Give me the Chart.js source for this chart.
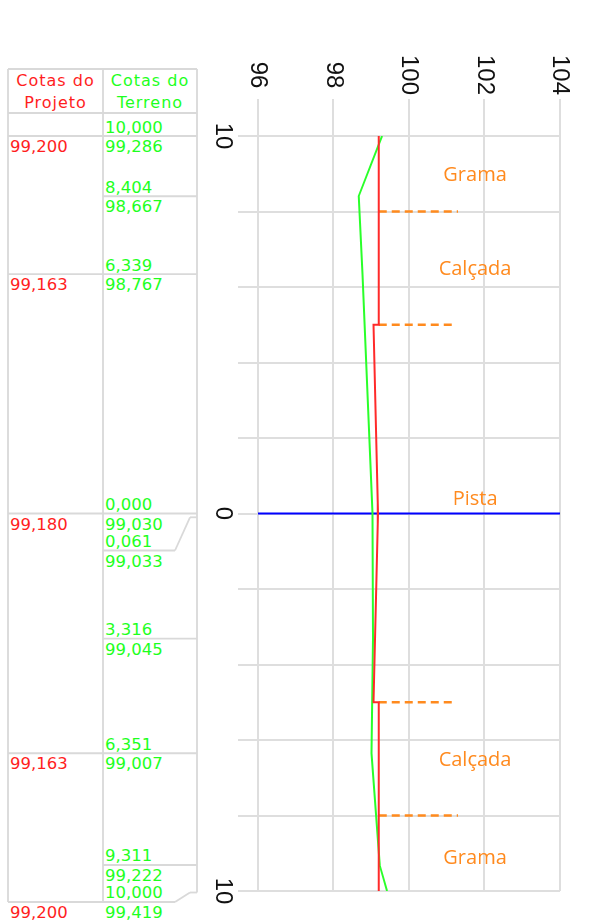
<!DOCTYPE html>
<html lang="pt-BR">
<head>
<meta charset="utf-8">
<title>Seção transversal</title>
<script src="https://cdn.jsdelivr.net/npm/chart.js@4/dist/chart.umd.min.js"></script>
<style>
    html, body { margin: 0; padding: 0; background: #fff; }
    body { width: 590px; height: 922px; position: relative; overflow: hidden; }
    #secao { position: absolute; left: 200px; top: 40px; width: 882px; height: 390px;
             transform-origin: 0 0; transform: translateX(390px) rotate(90deg); }
    #tabela { position: absolute; left: 0; top: 0; width: 200px; height: 922px; }
    #tabela svg { position: absolute; left: 0; top: 0; }
    .txt { position: absolute; font-family: "DejaVu Sans", sans-serif; font-size: 16.5px; line-height: 16px; white-space: nowrap; }
    .cab { text-align: center; line-height: 22px; letter-spacing: 1px; font-size: 16px; }
    .proj { color: #ff1e1e; }
    .terr { color: #1eff1e; }
</style>
</head>
<body>
<div id="tabela"></div>
<div id="secao"><canvas id="graficoSecao" width="882" height="390"></canvas></div>
<script>
// estacas: negativo = lado de cima do desenho
var estacoesTerreno = [-10, -8.404, -6.339, 0, 0.061, 3.316, 6.351, 9.311, 10];
var cotasTerreno = [99.286, 98.667, 98.767, 99.030, 99.033, 99.045, 99.007, 99.222, 99.419];
var estacoesProjeto = [-10, -6.339, 0, 6.351, 10];
var cotasProjeto = [99.200, 99.163, 99.180, 99.163, 99.200];
// greide desenhado (com degrau do meio-fio)
var estacoesGreide = [-10, -5, -5, 0, 5, 5, 10];
var cotasGreide = [99.20, 99.20, 99.06, 99.18, 99.06, 99.20, 99.20];
var eixoEstaca = [0, 0];
var eixoCota = [96, 104];
var divisasEstaca = [-8, -5, 5, 8];
var divisasCotaIni = [99.2, 99.2, 99.2, 99.2];
var divisasCotaFim = [101.3, 101.25, 101.25, 101.3];
var rotulos = ['Grama', 'Calçada', 'Pista', 'Calçada', 'Grama'];
var rotulosEstaca = [-9, -6.5, -0.4, 6.5, 9.1];
var rotulosCota = [101.75, 101.75, 101.75, 101.75, 101.75];
var estacasRotuladas = [-10, 0, 10];

var corVermelha = '#ff2a2a';
var corVerde = '#2aff2a';
var corLaranja = '#ff8a1e';
var corGrade = '#dedede';

var pontos = function (xs, ys) {
    var r = [];
    for (var i = 0; i < xs.length; i++) {
        r.push({ x: xs[i], y: ys[i] });
    }
    return r;
};

var rotulosPlugin = {
    id: 'rotulos',
    afterDatasetsDraw: function (chart) {
        var ctx = chart.ctx;
        var ex = chart.scales.x;
        var ey = chart.scales.y;
        ctx.save();
        ctx.fillStyle = corLaranja;
        ctx.font = '20px "Open Sans"';
        ctx.textAlign = 'center';
        ctx.textBaseline = 'alphabetic';
        for (var i = 0; i < rotulos.length; i++) {
            ctx.save();
            ctx.translate(ex.getPixelForValue(rotulosEstaca[i]), ey.getPixelForValue(rotulosCota[i]));
            // o canvas inteiro esta girado 90 graus, o texto volta para a horizontal
            ctx.rotate(-Math.PI / 2);
            ctx.fillText(rotulos[i], 0, 7);
            ctx.restore();
        }
        ctx.restore();
    }
};

var CriarGrafico = function () {
    var conjuntos = [
        { label: 'Projeto', data: pontos(estacoesGreide, cotasGreide), borderColor: corVermelha, borderWidth: 2 },
        { label: 'Terreno', data: pontos(estacoesTerreno, cotasTerreno), borderColor: corVerde, borderWidth: 2 },
        { label: 'Eixo', data: pontos(eixoEstaca, eixoCota), borderColor: '#0000ff', borderWidth: 2 }
    ];
    for (var i = 0; i < divisasEstaca.length; i++) {
        conjuntos.push({
            label: 'Divisa',
            data: [{ x: divisasEstaca[i], y: divisasCotaIni[i] }, { x: divisasEstaca[i], y: divisasCotaFim[i] }],
            borderColor: corLaranja,
            borderWidth: 2.5,
            borderDash: [8, 5]
        });
    }
    conjuntos.forEach(function (c) {
        c.showLine = true;
        c.pointRadius = 0;
        c.fill = false;
    });

    var fonteEixo = { family: '"Liberation Sans", Arial, sans-serif', size: 24 };

    return new Chart(document.getElementById('graficoSecao'), {
        type: 'scatter',
        data: { datasets: conjuntos },
        plugins: [rotulosPlugin],
        options: {
            responsive: false,
            animation: false,
            layout: { padding: { top: 30, right: 31, left: 0, bottom: 0 } },
            plugins: { legend: { display: false }, tooltip: { enabled: false } },
            scales: {
                x: {
                    type: 'linear', min: -10, max: 10, position: 'bottom',
                    grid: { color: corGrade, lineWidth: 2, tickLength: 20 },
                    border: { color: corGrade, width: 2 },
                    ticks: {
                        stepSize: 2, autoSkip: false, maxRotation: 0, minRotation: 0, padding: 1,
                        color: '#111', font: fonteEixo,
                        callback: function (v) {
                            return estacasRotuladas.indexOf(v) >= 0 ? String(Math.abs(v)) : '';
                        }
                    },
                    afterFit: function (s) { s.height = 58; }
                },
                y: {
                    type: 'linear', min: 96, max: 104,
                    grid: { color: corGrade, lineWidth: 2, tickLength: 37 },
                    border: { color: corGrade, width: 2 },
                    ticks: { stepSize: 2, padding: 4, crossAlign: 'center', color: '#111', font: fonteEixo },
                    afterFit: function (s) { s.width = 96; }
                }
            }
        }
    });
};

var fmt = function (v) {
    return Math.abs(v).toFixed(3).replace('.', ',');
};

var MontarTabela = function (grafico) {
    var escala = grafico.scales.x;
    var topoGrafico = 40;
    var xEsq = 8, xMeio = 103, xDir = 197, xQuebra = 175, xQuebraFim = 190;
    var yTopo = 69, yCab = 113, folga = 37;
    var linhas = [];
    var html = '';
    var yAnt = -Infinity, yReal = 0, yDes = 0;

    linhas.push([xEsq, yTopo, xDir, yTopo]);
    linhas.push([xEsq, yCab, xDir, yCab]);

    for (var i = 0; i < estacoesTerreno.length; i++) {
        yReal = topoGrafico + escala.getPixelForValue(estacoesTerreno[i]);
        yDes = Math.max(yReal, yAnt + folga);
        if (yDes > yReal + 0.5) {
            linhas.push([xMeio, yDes, xQuebra, yDes]);
            linhas.push([xQuebra, yDes, xQuebraFim, yReal + 1.5]);
            linhas.push([xQuebraFim, yReal + 1.5, xDir, yReal + 1.5]);
        } else {
            linhas.push([xMeio, yDes, xDir, yDes]);
        }
        var k = estacoesProjeto.indexOf(estacoesTerreno[i]);
        if (k >= 0) {
            linhas.push([xEsq, yDes, xMeio, yDes]);
            html += '<div class="txt proj" style="left:10px;top:' + (yDes + 3) + 'px">' + fmt(cotasProjeto[k]) + '</div>';
        }
        html += '<div class="txt terr" style="left:105px;top:' + (yDes - 16.5) + 'px">' + fmt(estacoesTerreno[i]) + '</div>';
        html += '<div class="txt terr" style="left:105px;top:' + (yDes + 3) + 'px">' + fmt(cotasTerreno[i]) + '</div>';
        yAnt = yDes;
    }
    linhas.push([xEsq, yTopo, xEsq, yDes]);
    linhas.push([xMeio, yTopo, xMeio, yDes]);
    linhas.push([xDir, yTopo, xDir, yReal + 1.5]);

    var svg = '<svg width="200" height="922" xmlns="http://www.w3.org/2000/svg">';
    linhas.forEach(function (l) {
        svg += '<line x1="' + l[0] + '" y1="' + l[1] + '" x2="' + l[2] + '" y2="' + l[3] + '" stroke="#d9d9d9" stroke-width="1.8"/>';
    });
    svg += '</svg>';

    html += '<div class="txt cab proj" style="left:8px;width:95px;top:70px">Cotas do<br>Projeto</div>';
    html += '<div class="txt cab terr" style="left:103px;width:94px;top:70px">Cotas do<br>Terreno</div>';

    document.getElementById('tabela').innerHTML = svg + html;
};

var grafico = CriarGrafico();
MontarTabela(grafico);
</script>
</body>
</html>
